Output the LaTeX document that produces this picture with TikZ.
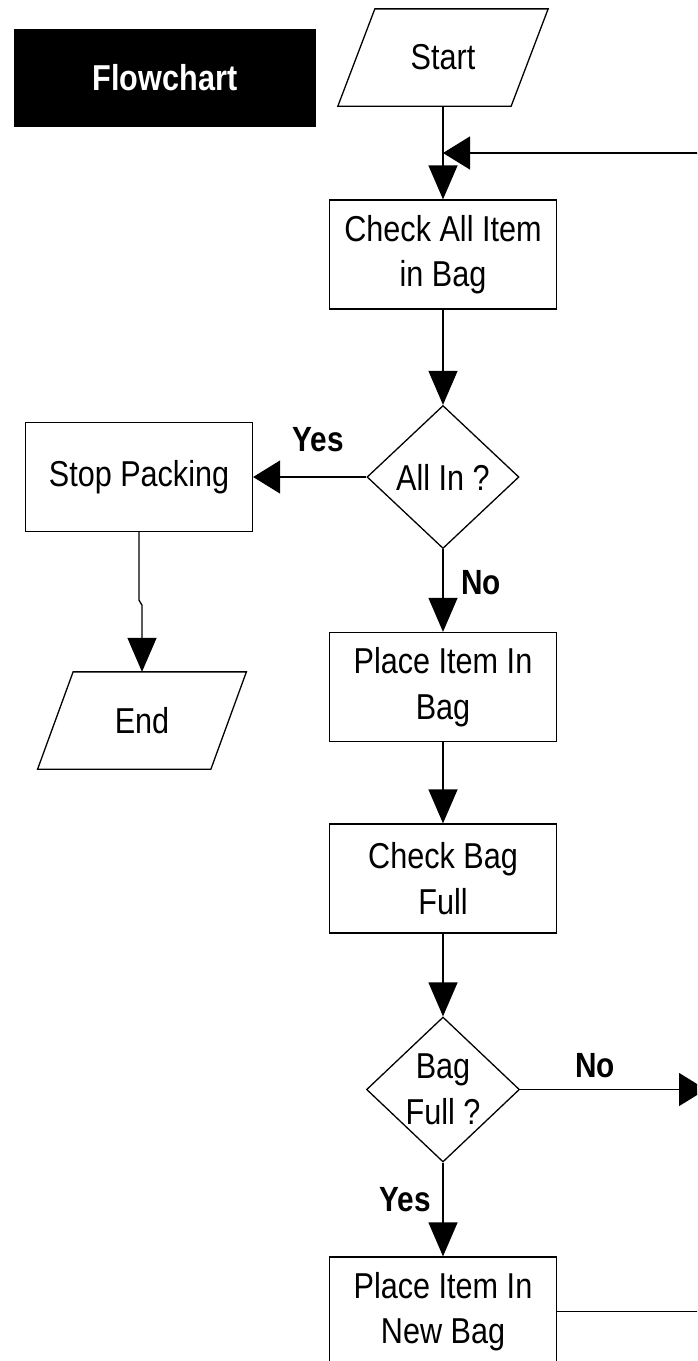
\documentclass[tikz,border=0pt]{standalone}
\usepackage{fontspec}
\setmainfont{Liberation Sans}
\newfontfamily\boxfont[FakeStretch=0.85]{Liberation Sans}
\usetikzlibrary{arrows.meta,calc,shapes.geometric}

\begin{document}
\begin{tikzpicture}[x=1pt,y=-1pt,
  line width=1.3pt,
  txt/.style={font=\boxfont\fontsize{36}{45.5}\selectfont, align=center, inner sep=0pt},
  lbl/.style={font=\boxfont\bfseries\fontsize{35}{42}\selectfont, inner sep=0pt},
  proc/.style={txt, draw, minimum width=227pt, minimum height=109pt},
  io/.style={txt, minimum width=172pt, minimum height=96pt},
  decide/.style={draw, shape=diamond, inner sep=0pt, minimum width=152pt, minimum height=143pt},
  varr/.style={-{Triangle[length=34pt,width=29pt]}},
  harr/.style={-{Triangle[length=27pt,width=33pt]}},
  titlebox/.style={fill=black, minimum width=302pt, minimum height=98pt, inner sep=0pt,
    text=white, font=\boxfont\bfseries\fontsize{36}{42}\selectfont}
]
\useasboundingbox (0,0) rectangle (697,1361);
\clip (0,0) rectangle (697,1361);

% heading
\node[titlebox] (title) at (165,78) {Flowchart};

% input / output parallelograms (text node plus slanted outline)
\node[io] (start) at (443,57.5) {Start};
\draw ($(start.north west)+(18.5,0)$) -- ($(start.north east)+(18.5,0)$)
   -- ($(start.south east)+(-18.5,0)$) -- ($(start.south west)+(-18.5,0)$) -- cycle;

\node[io] (end) at (142,720.5) {End};
\draw ($(end.north west)+(17.75,0)$) -- ($(end.north east)+(17.75,0)$)
   -- ($(end.south east)+(-17.75,0)$) -- ($(end.south west)+(-17.75,0)$) -- cycle;

% process boxes
\node[proc] (check) at (443,254.5) {Check All Item\\in Bag};
\node[proc] (stop) at (139,477) {Stop Packing};
\node[proc] (place) at (443,687) {Place Item In\\Bag};
\node[proc] (checkfull) at (443,878.5) {Check Bag\\Full};
\node[proc] (newbag) at (443,1311.5) {Place Item In\\New Bag};

% decisions
\node[decide] (allin) at (443,477) {};
\node[txt] (allint) at (allin.center) {All In ?};
\node[decide, minimum width=153pt, minimum height=145pt] (bagfull) at (443,1089.5) {};
\node[txt] (bagfullt) at (bagfull.center) {Bag\\Full ?};

% loop-back coordinates
\coordinate (join) at (443,153);
\coordinate (offright) at (706,1089.5);
\coordinate (loopcorner) at (720,1311.5);

% connectors
\draw[varr] (start.south) -- (check.north);
\draw[varr] (check.south) -- (allin.north);
\draw[harr] (allin.west) -- (stop.east);
\draw[varr] (stop.south) -- ++(0,68) -- ++(3,5) -- (end.north);
\draw[varr] (allin.south) -- (place.north);
\draw[varr] (place.south) -- (checkfull.north);
\draw[varr] (checkfull.south) -- (bagfull.north);
\draw[varr] (bagfull.south) -- (newbag.north);
\draw[harr] (bagfull.east) -- (offright);
\draw[harr] (newbag.east) -- (loopcorner) |- (join);

% branch labels
\node[lbl] (yes1) at (318,440) {Yes};
\node[lbl] (no1) at (481,583) {No};
\node[lbl] (no2) at (595,1066) {No};
\node[lbl] (yes2) at (405,1200) {Yes};
\end{tikzpicture}
\end{document}
